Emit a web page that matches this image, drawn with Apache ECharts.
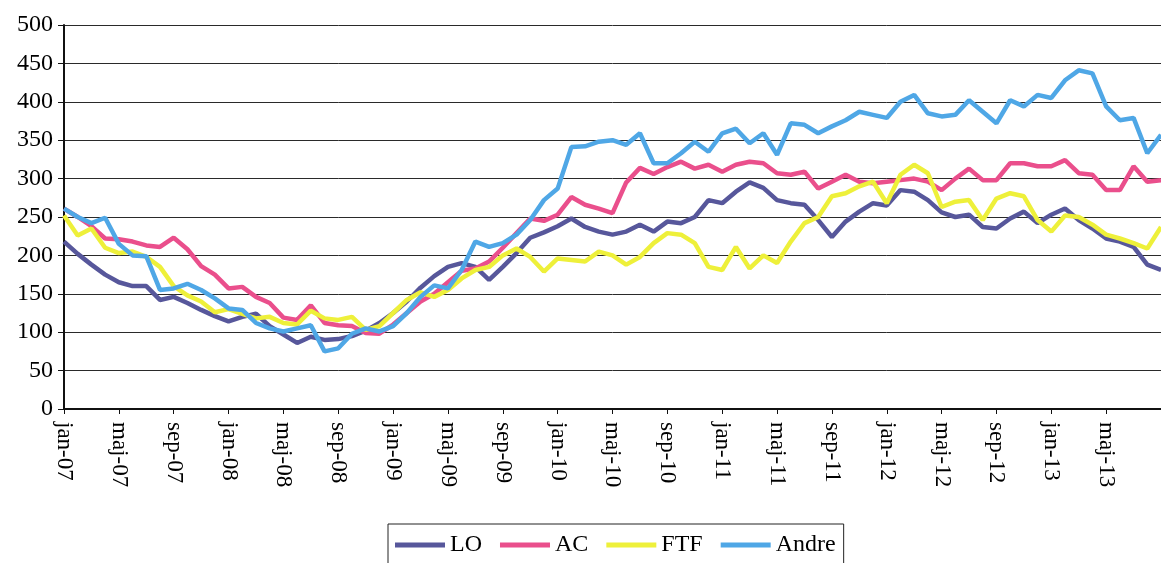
<!DOCTYPE html>
<html>
<head>
<meta charset="utf-8">
<script src="https://cdn.jsdelivr.net/npm/echarts@6/dist/echarts.min.js"></script>
<style>
  html, body { margin: 0; padding: 0; background: #fff; }
  #chart { width: 1161px; height: 563px; }
</style>
</head>
<body>
<div id="chart"></div>
<script>
// months jan-07 .. sep-13 (Danish month names)
const monthNames = ['jan', 'feb', 'mar', 'apr', 'maj', 'jun', 'jul', 'aug', 'sep', 'okt', 'nov', 'dec'];
const years = ['07', '08', '09', '10', '11', '12', '13'];

const seriesNames = ['LO', 'AC', 'FTF', 'Andre'];
const seriesColors = ['#57579b', '#ea4f8c', '#eef03a', '#4fa7e6'];

const lo = [
  218, 202, 188, 175, 165, 160, 160, 142, 146, 138, 129, 121,
  114, 120, 124, 108, 97, 86, 94, 90, 91, 95, 102, 112,
  125, 140, 158, 173, 185, 190, 185, 168, 185, 203, 223, 230,
  238, 248, 237, 231, 227, 231, 240, 231, 244, 242, 250, 272,
  268, 283, 295, 288, 272, 268, 266, 246, 224, 244, 257, 268,
  265, 285, 283, 272, 256, 250, 253, 237, 235, 248, 257, 242,
  253, 261, 246, 235, 222, 218, 211, 188, 181
];
const ac = [
  261, 250, 238, 222, 221, 218, 213, 211, 223, 208, 186, 175,
  157, 159, 146, 138, 119, 116, 135, 112, 109, 108, 99, 98,
  110, 125, 140, 150, 165, 180, 183, 192, 210, 229, 248, 245,
  253, 276, 266, 261, 255, 295, 314, 306, 315, 322, 313, 318,
  309, 318, 322, 320, 307, 305, 309, 287, 296, 305, 296, 294,
  296, 298, 300, 296, 285, 300, 313, 298, 298, 320, 320, 316,
  316, 324, 307, 305, 285, 285, 316, 296, 298
];
const ftf = [
  252, 226, 235, 210, 203, 205, 198, 185, 160, 148, 140, 126,
  130, 124, 118, 120, 112, 110, 128, 118, 116, 120, 103, 108,
  125, 142, 152, 146, 155, 170, 181, 185, 200, 209, 198, 179,
  196, 194, 192, 205, 200, 188, 198, 216, 229, 227, 216, 185,
  181, 211, 183, 200, 190, 218, 242, 250, 277, 281, 290, 296,
  268, 305, 318, 307, 263, 270, 272, 246, 274, 281, 277, 246,
  231, 252, 250, 240, 227, 222, 216, 209, 237
];
const andre = [
  261, 250, 242, 249, 215, 200, 199, 155, 157, 163, 155, 144,
  131, 129, 112, 105, 101, 105, 109, 75, 79, 98, 105, 101,
  108, 125, 146, 161, 157, 181, 218, 211, 216, 227, 246, 272,
  287, 341, 342, 348, 350, 344, 359, 320, 320, 333, 348, 335,
  359, 365, 346, 359, 331, 372, 370, 359, 368, 376, 387, 383,
  379, 400, 409, 385, 381, 383, 402, 387, 372, 402, 394, 409,
  405, 428, 441, 437, 394, 376, 379, 333, 357
];

const categories = [];
years.forEach(y => {
  monthNames.forEach(m => categories.push(m + '-' + y));
});
categories.length = lo.length;

const values = [lo, ac, ftf, andre];
const serif = "'Liberation Serif', 'Times New Roman', serif";

const chart = echarts.init(document.getElementById('chart'));

const option = {
  animation: false,
  backgroundColor: '#fff',
  // the picture is cut at the right edge, so the plot runs a little past it
  grid: { left: 64, top: 25, width: 1099, height: 384 },
  legend: {
    data: seriesNames,
    left: 388,
    top: 524,
    padding: [9, 8, 30, 7],
    itemGap: 18,
    itemWidth: 50,
    itemHeight: 5,
    icon: 'rect',
    borderColor: '#222',
    borderWidth: 1,
    textStyle: { fontFamily: serif, fontSize: 24, color: '#000' }
  },
  xAxis: {
    type: 'category',
    data: categories,
    boundaryGap: false,
    axisLine: { lineStyle: { color: '#111', width: 2 } },
    axisTick: { interval: 3, length: 5, lineStyle: { color: '#111' } },
    axisLabel: {
      interval: 3,
      rotate: -90,
      margin: 13,
      showMaxLabel: false,
      fontFamily: serif,
      fontSize: 23,
      color: '#000'
    },
    splitLine: { show: false }
  },
  yAxis: {
    type: 'value',
    min: 0,
    max: 500,
    interval: 50,
    axisLine: { show: true, lineStyle: { color: '#111', width: 2 } },
    axisTick: { show: true, length: 6, lineStyle: { color: '#111' } },
    axisLabel: { margin: 11, fontFamily: serif, fontSize: 24, color: '#000' },
    splitLine: { lineStyle: { color: '#2a2a2a', width: 1 } }
  },
  series: seriesNames.map((name, i) => ({
    name: name,
    type: 'line',
    data: values[i],
    showSymbol: false,
    lineStyle: { width: 4.5, color: seriesColors[i] },
    itemStyle: { color: seriesColors[i] }
  }))
};

chart.setOption(option);
</script>
</body>
</html>
